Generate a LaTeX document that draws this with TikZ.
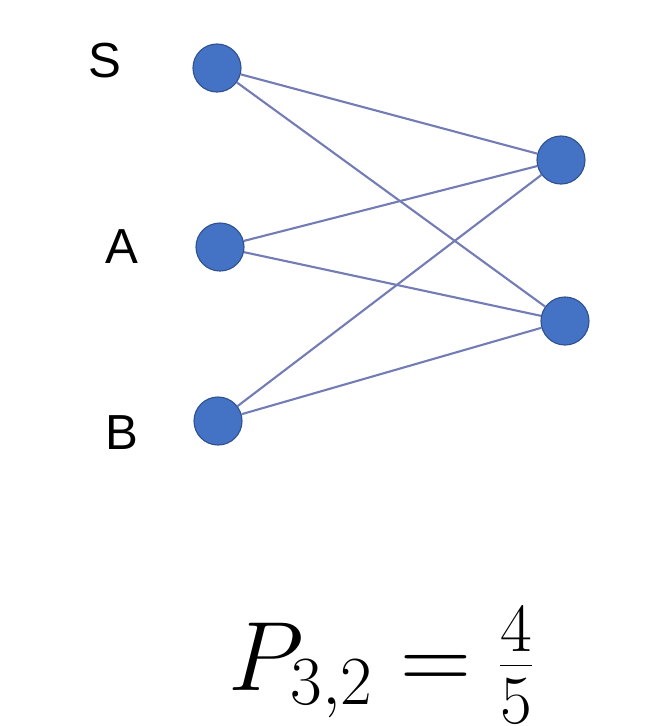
\RequirePackage{fix-cm}
\documentclass[tikz,border=0pt]{standalone}
\usepackage{fontspec}
\newfontfamily\labelfont{Liberation Sans}
\definecolor{vertexblue}{RGB}{68,114,196}
\definecolor{vertexrim}{RGB}{47,82,143}
\definecolor{edgeblue}{RGB}{115,124,180}
\tikzset{
  vertex/.style={circle, fill=vertexblue, draw=vertexrim, line width=0.8pt, minimum size=1.2cm, inner sep=0pt},
  edge/.style={edgeblue, line width=1.5pt},
  vlabel/.style={font=\labelfont\fontsize{35}{42}\selectfont}
}
\begin{document}
\begin{tikzpicture}[x=0.025cm, y=-0.025cm]
\useasboundingbox (0,0) rectangle (656,726);

        % Vertices
        \node[vertex] (S) at (217,68) {};
        \node[vertex] (A) at (220,247) {};
        \node[vertex] (B) at (218,421) {};
        \node[vertex] (X) at (561,160) {};
        \node[vertex] (Y) at (565,321) {};

        % Labels
        \node[vlabel] (lS) at (105,61) {S};
        \node[vlabel] (lA) at (122,247) {A};
        \node[vlabel] (lB) at (122,433) {B};

        % Edges
        \draw[edge] (S) -- (X);
        \draw[edge] (S) -- (Y);
        \draw[edge] (A) -- (X);
        \draw[edge] (A) -- (Y);
        \draw[edge] (B) -- (X);
        \draw[edge] (B) -- (Y);

        % Formula
        \node[anchor=base west, inner sep=0pt, font=\fontsize{70}{84}\selectfont] (eq) at (228,690) {$P_{3,2} = \frac{4}{5}$};

\end{tikzpicture}
\end{document}
